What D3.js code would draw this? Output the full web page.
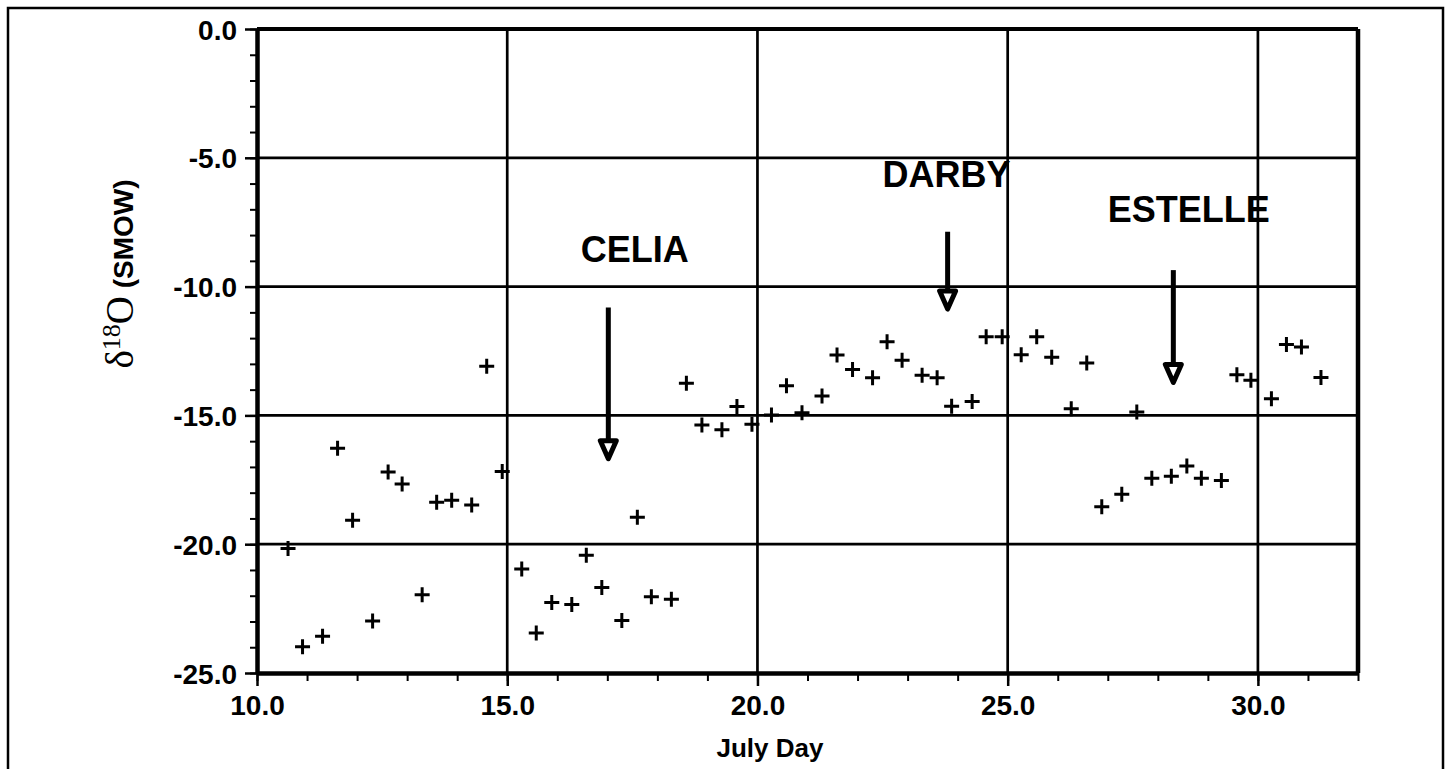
<!DOCTYPE html>
<html>
<head>
<meta charset="utf-8">
<script src="https://cdn.jsdelivr.net/npm/d3@7"></script>
<style>
  html, body { margin: 0; padding: 0; background: #fff; }
  svg { display: block; }
</style>
</head>
<body>
<svg id="chart" width="1449" height="769"></svg>
<script>
// ---- data ----
const julyDay = [10.62, 10.91, 11.31, 11.61, 11.91, 12.31, 12.62, 12.90, 13.30, 13.59, 13.89, 14.29, 14.59, 14.90,
  15.29, 15.58, 15.89, 16.29, 16.58, 16.89, 17.29, 17.60, 17.88, 18.28, 18.58, 18.89, 19.29, 19.59, 19.89,
  20.28, 20.58, 20.89, 21.29, 21.59, 21.90, 22.30, 22.59, 22.89, 23.29, 23.59, 23.88, 24.29, 24.57, 24.89,
  25.27, 25.58, 25.88, 26.27, 26.58, 26.88, 27.28, 27.58, 27.88, 28.27, 28.58, 28.87, 29.27, 29.58, 29.86,
  30.27, 30.57, 30.87, 31.26];
const delta18O = [-20.17, -23.98, -23.57, -16.28, -19.07, -22.98, -17.20, -17.66, -21.96, -18.37, -18.29, -18.48, -13.09, -17.18,
  -20.96, -23.45, -22.26, -22.34, -20.43, -21.68, -22.96, -18.95, -22.04, -22.14, -13.75, -15.37, -15.56, -14.65, -15.34,
  -14.98, -13.85, -14.90, -14.25, -12.66, -13.22, -13.54, -12.14, -12.86, -13.44, -13.54, -14.64, -14.46, -11.95, -11.95,
  -12.65, -11.95, -12.74, -14.74, -12.97, -18.55, -18.06, -14.87, -17.44, -17.36, -16.96, -17.44, -17.53, -13.42, -13.64,
  -14.35, -12.25, -12.34, -13.53];

const xTicks = [10, 15, 20, 25, 30];
const yTicks = [0, -5, -10, -15, -20, -25];
const xMinorTicks = d3.range(10, 33, 1);
const yMinorTicks = d3.range(-25, 1, 1);

// hurricane annotations (day of arrow, arrow top/tip values, label anchor)
const stormNames = ["CELIA", "DARBY", "ESTELLE"];
const arrowDay = [17.02, 23.80, 28.31];
const arrowTop = [-10.81, -7.87, -9.36];
const arrowTip = [-16.78, -10.97, -13.82];
const labelDay = [16.47, 22.50, 27.00];
const labelValue = [-9.06, -6.15, -7.49];

const xTitle = "July Day";

// ---- drawing ----
const svg = d3.select("#chart");
const x = d3.scaleLinear().domain([10, 32]).range([257, 1358]);
const y = d3.scaleLinear().domain([-25, 0]).range([673, 29]);
const fmt = d => d.toFixed(1);

// outer frame
svg.append("rect").attr("x", 8).attr("y", 8).attr("width", 1435).attr("height", 790)
  .attr("fill", "#fff").attr("stroke", "#000").attr("stroke-width", 2.5);

const g = svg.append("g");

// grid lines
g.selectAll(".vgrid").data(xTicks.slice(1)).join("line")
  .attr("x1", d => x(d)).attr("x2", d => x(d))
  .attr("y1", y(0)).attr("y2", y(-25))
  .attr("stroke", "#000").attr("stroke-width", 2.7);
g.selectAll(".hgrid").data(yTicks.slice(1, -1)).join("line")
  .attr("x1", x(10)).attr("x2", x(32))
  .attr("y1", d => y(d)).attr("y2", d => y(d))
  .attr("stroke", "#000").attr("stroke-width", 2.7);

// top and right borders of plot
g.append("line").attr("x1", x(10)).attr("x2", x(32)).attr("y1", y(0)).attr("y2", y(0))
  .attr("stroke", "#000").attr("stroke-width", 4);
g.append("line").attr("x1", x(32)).attr("x2", x(32)).attr("y1", y(0)).attr("y2", y(-25))
  .attr("stroke", "#000").attr("stroke-width", 4.5);

// minor ticks
const yMinor = g.append("g").attr("transform", `translate(${x(10)},0)`)
  .call(d3.axisLeft(y).tickValues(yMinorTicks).tickSize(7).tickFormat(""));
yMinor.select(".domain").remove();
yMinor.selectAll("line").attr("stroke-width", 2);
const xMinor = g.append("g").attr("transform", `translate(0,${y(-25)})`)
  .call(d3.axisBottom(x).tickValues(xMinorTicks).tickSize(8).tickFormat(""));
xMinor.select(".domain").remove();
xMinor.selectAll("line").attr("stroke-width", 2);

// major axes
const yAxis = g.append("g").attr("transform", `translate(${x(10)},0)`)
  .call(d3.axisLeft(y).tickValues(yTicks).tickSize(12).tickPadding(8).tickSizeOuter(0).tickFormat(fmt));
yAxis.select(".domain").attr("stroke-width", 4.5);
yAxis.selectAll(".tick line").attr("stroke-width", 2.5);
yAxis.selectAll("text").attr("font-family", "'Liberation Sans', Arial, sans-serif")
  .attr("font-weight", "bold").attr("font-size", 28).attr("fill", "#000").attr("dy", "0.36em");

const xAxis = g.append("g").attr("transform", `translate(0,${y(-25)})`)
  .call(d3.axisBottom(x).tickValues(xTicks).tickSize(13).tickPadding(9).tickSizeOuter(0).tickFormat(fmt));
xAxis.select(".domain").attr("stroke-width", 4.5);
xAxis.selectAll(".tick line").attr("stroke-width", 2.5);
xAxis.selectAll("text").attr("font-family", "'Liberation Sans', Arial, sans-serif")
  .attr("font-weight", "bold").attr("font-size", 28).attr("fill", "#000").attr("dy", "0.71em");

// data points as plus markers
const pts = julyDay.map((d, i) => ({ d, v: delta18O[i] }));
const s = 7.5;
g.selectAll(".pt").data(pts).join("path")
  .attr("d", p => `M${x(p.d) - s},${y(p.v)}H${x(p.d) + s}M${x(p.d)},${y(p.v) - s}V${y(p.v) + s}`)
  .attr("stroke", "#000").attr("stroke-width", 3).attr("fill", "none");

// annotations
const ann = stormNames.map((n, i) => ({ n, ax: arrowDay[i], at: arrowTop[i], tip: arrowTip[i], lx: labelDay[i], lv: labelValue[i] }));
const ag = g.selectAll(".ann").data(ann).join("g");
ag.append("line")
  .attr("x1", a => x(a.ax)).attr("x2", a => x(a.ax))
  .attr("y1", a => y(a.at)).attr("y2", a => y(a.tip) - 19)
  .attr("stroke", "#000").attr("stroke-width", 5);
ag.append("path")
  .attr("d", a => {
    const cx = x(a.ax), ty = y(a.tip) - 2.5;
    return `M${cx - 8},${ty - 18}L${cx + 8},${ty - 18}L${cx},${ty}Z`;
  })
  .attr("fill", "#fff").attr("stroke", "#000").attr("stroke-width", 5).attr("stroke-linejoin", "round");
ag.append("text")
  .attr("x", a => x(a.lx)).attr("y", a => y(a.lv))
  .attr("font-family", "'Liberation Sans', Arial, sans-serif").attr("font-weight", "bold")
  .attr("font-size", 36).attr("fill", "#000")
  .text(a => a.n);

// x-axis title
svg.append("text").attr("x", 770).attr("y", 757).attr("text-anchor", "middle")
  .attr("font-family", "'Liberation Sans', Arial, sans-serif").attr("font-weight", "bold")
  .attr("font-size", 26).attr("fill", "#000").text(xTitle);

// y-axis title
const yt = svg.append("text").attr("transform", "translate(133,274) rotate(-90)")
  .attr("text-anchor", "middle").attr("fill", "#000");
yt.append("tspan").attr("font-family", "'Liberation Serif', 'Times New Roman', serif").attr("font-size", 39).text("δ");
yt.append("tspan").attr("font-family", "'Liberation Serif', 'Times New Roman', serif").attr("font-size", 26).attr("dy", -13).text("18");
yt.append("tspan").attr("font-family", "'Liberation Serif', 'Times New Roman', serif").attr("font-size", 39).attr("dy", 13).text("O");
yt.append("tspan").attr("font-family", "'Liberation Sans', Arial, sans-serif").attr("font-weight", "bold").attr("font-size", 28).text(" (SMOW)");
</script>
</body>
</html>
